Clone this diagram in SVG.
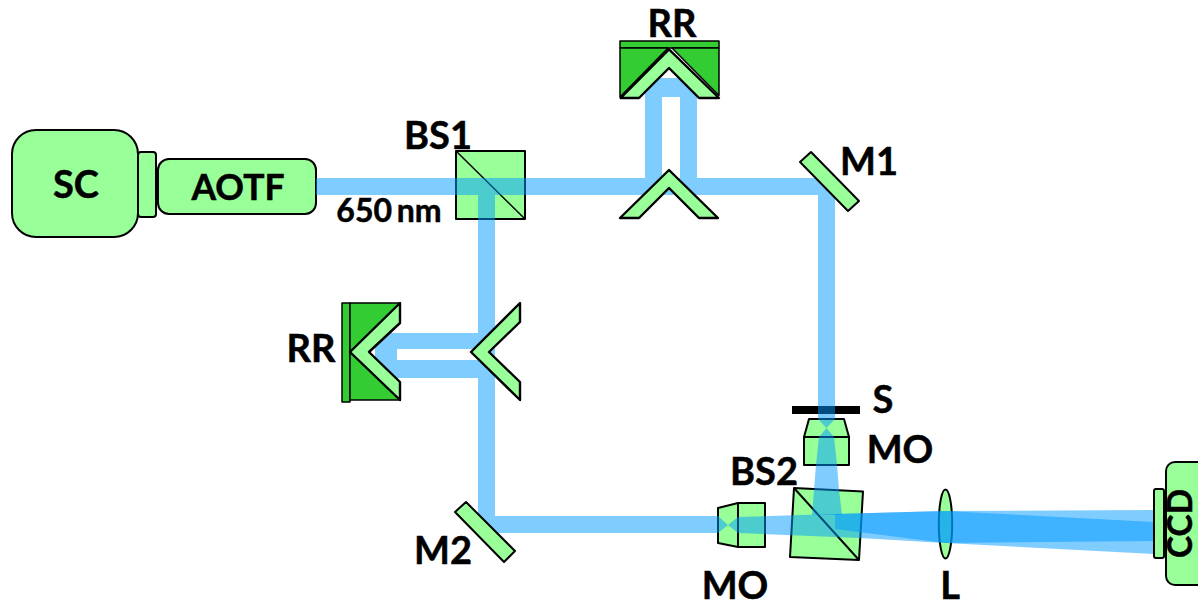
<svg xmlns="http://www.w3.org/2000/svg" width="1198" height="607" viewBox="0 0 1198 607">
<style>
.g{fill:#99ff99;stroke:#000;stroke-width:2;stroke-linejoin:round}
.t{stroke-width:2.4}
.d{fill:#33cc33;stroke:#000;stroke-width:1.5;stroke-linejoin:round}
.b{fill:#0099ff;fill-opacity:.5;stroke:none}
text{font-family:Lato,"Open Sans","Liberation Sans",sans-serif;font-weight:700;font-size:38px;fill:#000;stroke:#000;stroke-width:.5;text-anchor:middle}
</style>
<rect width="1198" height="607" fill="#fff"/>
<g id="SC"><rect class="g" x="12" y="130" width="126" height="107" rx="24"/><text x="76" y="198">SC</text></g>
<rect id="SC-port" class="g" x="138" y="152" width="18" height="65" rx="3"/>
<g id="AOTF"><rect class="g" x="158" y="159" width="158" height="55" rx="11"/><text x="238" y="200" style="font-size:35.500px">AOTF</text></g>
<g id="BS1"><rect class="g" x="456" y="151" width="69" height="68"/><path d="M456 151L525 219" fill="none" stroke="#000" stroke-width="1.5"/><text x="438" y="149">BS1</text></g>
<text id="wavelength" x="389" y="222" style="font-size:32px;word-spacing:-3px">650 nm</text>
<g id="S"><rect x="792" y="406" width="68" height="8" fill="#000"/><text x="883" y="413">S</text></g>
<g id="MO-top"><path class="g" d="M804 437L809 419H844L849 437Z"/><rect class="g" x="804" y="437" width="45" height="28"/><text x="900" y="463">MO</text></g>
<g id="MO-left"><path class="g" d="M718 508L738 503V547L718 543Z"/><rect class="g" x="738" y="503" width="27" height="44"/><text x="735" y="599">MO</text></g>
<g id="BS2"><path class="g" d="M794 488L863 491.500L859 560L790 557Z"/><path d="M794 488L859 560" fill="none" stroke="#000" stroke-width="2"/><text x="764" y="485">BS2</text></g>
<g id="L"><ellipse class="g" cx="945.500" cy="524" rx="6.700" ry="34.500"/><text x="950" y="599">L</text></g>
<g id="connectors">
<path class="b" d="M316 178H835V195H316Z M645 178V78H697V178H680V97H662V178Z M478 195H495V516H718V533H478V378H375V333H478V349H397V360H478Z M818 195H835V419L826.500 428L834 437L837 465L839 490L842 515H812L814 490L816 465L819 437L826.500 428L818 419Z M718 516L728 525L718 533Z"/>
<path class="b" d="M728 525L738 517L835 514L945 511L1154 510V554L945 543L860 538L738 533Z"/>
<path class="b" d="M835 514L945 511L1154 522V541L945 543L835 529Z"/>
</g>
<g id="CCD"><rect class="g" x="1154" y="489" width="10" height="69" rx="2"/><rect class="g" x="1166" y="462" width="40" height="123" rx="9"/><text transform="translate(1192 523.500) rotate(-90)" textLength="69" lengthAdjust="spacingAndGlyphs" style="font-size:34px">CCD</text></g>
<g id="M1"><path class="g" d="M800 162L811 152L859 201L848 211Z"/><text x="869" y="175">M1</text></g>
<g id="M2"><path class="g" d="M455 512L466 502L515 551L504 562Z"/><text x="443" y="564">M2</text></g>
<g id="RR-top"><rect class="d" x="620" y="41" width="99" height="7"/><path class="d" d="M620 48H668L620 97Z M672 48H719V95.500Z"/><path class="g t" d="M620.700 98L669 49.300L719 98H699L669 68L639 98Z"/><text x="672" y="37">RR</text></g>
<g id="chevron-top"><path class="g t" d="M620 218L669 170L718 218H699L669 188L639 218Z"/></g>
<g id="RR-left"><rect class="d" x="342" y="303" width="8" height="99"/><path class="d" d="M350 303H400L350 352Z M350 352L400 400H350Z"/><path class="g t" d="M400 303V323L369 352L400 382V400L350 352Z"/><text x="311" y="362">RR</text></g>
<g id="chevron-left"><path class="g t" d="M520 303V322L489 352L520 382V400L471 352Z"/></g>
</svg>
